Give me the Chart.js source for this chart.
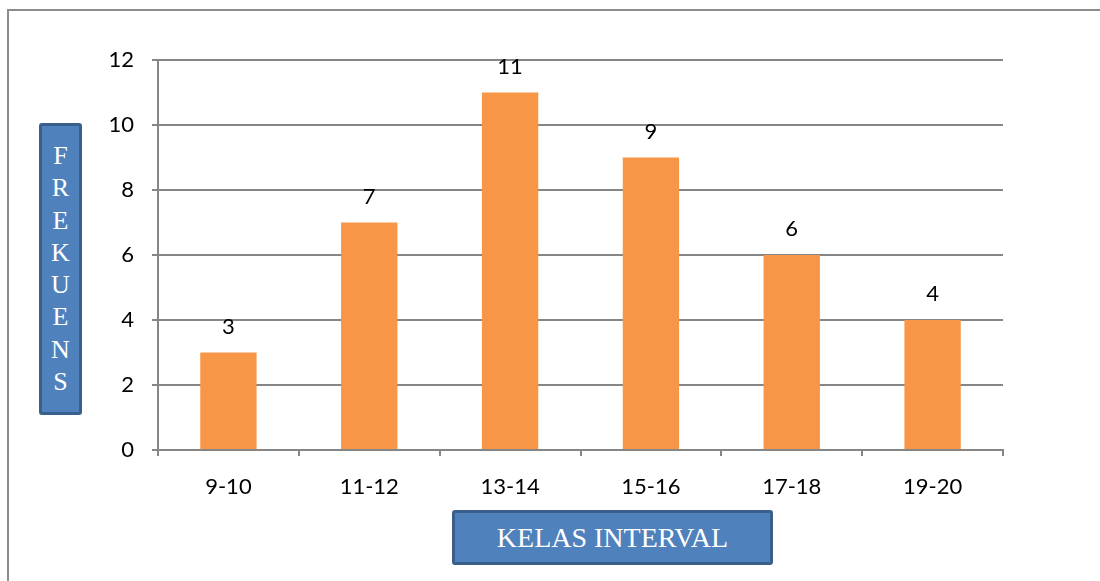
<!DOCTYPE html>
<html>
<head>
<meta charset="utf-8">
<script src="https://cdn.jsdelivr.net/npm/chart.js@4"></script>
<style>
html,body{margin:0;padding:0;background:#fff;}
#wrap{position:relative;width:1100px;height:581px;overflow:hidden;}
#frame{position:absolute;left:7px;top:9px;width:1200px;height:700px;border-left:2px solid #8c8c8c;border-top:2px solid #8c8c8c;}
canvas{position:absolute;left:0;top:0;}
.box{position:absolute;background:#4f81bd;border:3px solid #3a5f8b;border-radius:3px;box-sizing:border-box;color:#fff;font-family:"Liberation Serif","Times New Roman",serif;}
#ylab{left:39px;top:123px;width:43px;height:292px;text-align:center;font-size:26px;line-height:32.3px;padding-top:14px;}
#xlab{left:452px;top:510px;width:321px;height:55px;text-align:center;font-size:28px;line-height:49px;}
</style>
</head>
<body>
<div id="wrap">
<div id="frame"></div>
<canvas id="c" width="1100" height="581"></canvas>
<div class="box" id="ylab">F<br>R<br>E<br>K<br>U<br>E<br>N<br>S</div>
<div class="box" id="xlab">KELAS INTERVAL</div>
</div>
<script>
const categories = ["9-10","11-12","13-14","15-16","17-18","19-20"];
const frequencies = [3,7,11,9,6,4];
const yMax = 12;
const yStep = 2;

const FONT = 'Lato, "Open Sans", sans-serif';

const labelPlugin = {
  id:'valueLabels',
  afterDatasetsDraw(chart){
    const ctx = chart.ctx;
    const meta = chart.getDatasetMeta(0);
    ctx.save();
    ctx.font = '22px ' + FONT;
    ctx.fillStyle = '#000';
    ctx.textAlign = 'center';
    ctx.textBaseline = 'middle';
    meta.data.forEach((bar,i)=>{
      ctx.fillText(String(frequencies[i]), bar.x, bar.y - 26);
    });
    ctx.restore();
  }
};

new Chart(document.getElementById('c'),{
  type:'bar',
  data:{labels:categories,datasets:[{data:frequencies,backgroundColor:'#f79646',borderWidth:0,categoryPercentage:1,barPercentage:0.4}]},
  options:{
    responsive:false,animation:false,
    layout:{padding:{left:0,top:60,right:97,bottom:0}},
    plugins:{legend:{display:false},tooltip:{enabled:false}},
    scales:{
      x:{
        offset:true,
        grid:{offset:true,drawOnChartArea:false,drawTicks:true,tickLength:6,color:'#868686',lineWidth:2},
        border:{display:true,color:'#868686',width:2},
        ticks:{color:'#000',font:{family:FONT,size:22},padding:18},
        afterFit(s){s.height = 131;}
      },
      y:{
        min:0,max:yMax,
        grid:{color:'#868686',lineWidth:2,tickLength:6,drawTicks:true},
        border:{display:true,color:'#868686',width:2},
        ticks:{stepSize:yStep,color:'#000',font:{family:FONT,size:22},padding:18},
        afterFit(s){s.width = 158;}
      }
    }
  },
  plugins:[labelPlugin]
});
</script>
</body>
</html>
